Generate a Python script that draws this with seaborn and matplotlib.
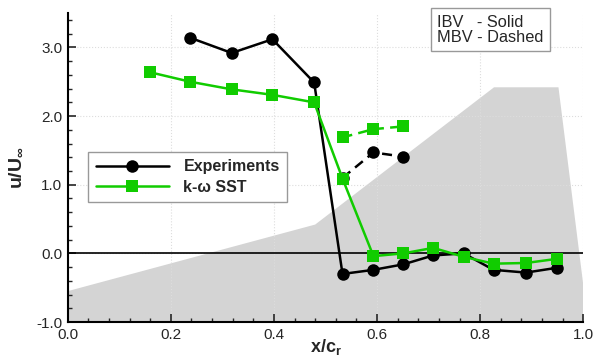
import numpy as np
import pandas as pd
import matplotlib
matplotlib.use("Agg")
import matplotlib.pyplot as plt
import seaborn as sns
from matplotlib.ticker import MultipleLocator

sns.set_style("white")
plt.rcParams['font.family'] = ['Liberation Sans', 'DejaVu Sans']
plt.rcParams['mathtext.fontset'] = 'custom'
plt.rcParams['mathtext.rm'] = 'Liberation Sans'
plt.rcParams['mathtext.bf'] = 'Liberation Sans:bold'
plt.rcParams['mathtext.it'] = 'Liberation Sans:italic'

# Experiments, IBV (solid)
exp_x = [0.238, 0.318, 0.397, 0.478, 0.533, 0.593, 0.651, 0.709, 0.768, 0.826, 0.889, 0.949]
exp_y = [3.14, 2.92, 3.12, 2.49, -0.30, -0.24, -0.16, -0.03, 0.00, -0.24, -0.28, -0.21]
# k-omega SST, IBV (solid)
sst_x = [0.159, 0.238, 0.318, 0.397, 0.478, 0.533, 0.593, 0.651, 0.709, 0.768, 0.826, 0.889, 0.949]
sst_y = [2.64, 2.50, 2.39, 2.31, 2.20, 1.09, -0.04, 0.00, 0.08, -0.05, -0.15, -0.14, -0.08]
# Experiments, MBV (dashed)
exp_mbv_x = [0.533, 0.593, 0.651]
exp_mbv_y = [1.10, 1.47, 1.41]
# k-omega SST, MBV (dashed)
sst_mbv_x = [0.533, 0.593, 0.651]
sst_mbv_y = [1.69, 1.81, 1.85]
# Geometry outline (gray)
geo_x = [0.0, 0.48, 0.827, 0.952, 1.0, 1.0, 0.0]
geo_y = [-0.55, 0.42, 2.42, 2.42, -0.45, -1.0, -1.0]

fig = plt.figure(figsize=(6.0, 3.56), dpi=100)
ax = fig.add_axes([0.113, 0.0955, 0.859, 0.8675])

ax.fill(geo_x, geo_y, color='#d4d4d4', lw=0, zorder=0)
ax.axhline(0.0, color='black', lw=1.2, zorder=1)

green = '#11cc00'
df_exp = pd.DataFrame({'x': exp_x, 'y': exp_y})
df_sst = pd.DataFrame({'x': sst_x, 'y': sst_y})
df_exp2 = pd.DataFrame({'x': exp_mbv_x, 'y': exp_mbv_y})
df_sst2 = pd.DataFrame({'x': sst_mbv_x, 'y': sst_mbv_y})

sns.lineplot(data=df_exp2, x='x', y='y', ax=ax, color='black', lw=1.8, ls=(0, (4, 2.5)),
             marker='o', markersize=9, markeredgewidth=0, sort=False, zorder=3)
sns.lineplot(data=df_sst2, x='x', y='y', ax=ax, color=green, lw=1.8, ls=(0, (4, 2.5)),
             marker='s', markersize=8, markeredgewidth=0, sort=False, zorder=3)
sns.lineplot(data=df_exp, x='x', y='y', ax=ax, color='black', lw=1.8,
             marker='o', markersize=9, markeredgewidth=0, sort=False, zorder=4, label='Experiments')
sns.lineplot(data=df_sst, x='x', y='y', ax=ax, color=green, lw=1.8,
             marker='s', markersize=8, markeredgewidth=0, sort=False, zorder=5, label='k-\u03c9 SST')

ax.set_xlim(0, 1.0)
ax.set_ylim(-1.0, 3.5)
ax.xaxis.set_minor_locator(MultipleLocator(0.04))
ax.yaxis.set_minor_locator(MultipleLocator(0.2))
ax.set_yticks([-1, 0, 1, 2, 3])
ax.set_yticklabels(['-1.0', '0.0', '1.0', '2.0', '3.0'])
ax.set_xticks([0, 0.2, 0.4, 0.6, 0.8, 1.0])
ax.set_xticklabels(['0.0', '0.2', '0.4', '0.6', '0.8', '1.0'])
ax.tick_params(axis='both', which='major', direction='in', length=6, width=1.2,
               labelsize=11, pad=4, bottom=True, left=True)
ax.tick_params(axis='both', which='minor', direction='in', length=3, width=1,
               bottom=True, left=True)
ax.grid(True, which='major', color='#dddddd', lw=0.8, ls=':')
for s in ['top', 'right']:
    ax.spines[s].set_visible(False)
for s in ['left', 'bottom']:
    ax.spines[s].set_color('black')
    ax.spines[s].set_linewidth(1.5)

ax.set_xlabel(r'$\mathbf{x/c_r}$', fontsize=13, labelpad=-3)
ax.set_ylabel(r'$\mathbf{u/U_{\infty}}$', fontsize=14, labelpad=8)

leg = ax.legend(loc='upper left', bbox_to_anchor=(0.04, 0.55), borderaxespad=0, handlelength=4.6,
                prop={'weight': 'bold', 'size': 11.5}, frameon=True, fancybox=False,
                edgecolor='#999999', borderpad=0.45, labelspacing=0.35, handletextpad=0.9,
                framealpha=1)
leg.get_frame().set_linewidth(1)

ax.text(0.717, 0.995, 'IBV   - Solid\nMBV - Dashed', transform=ax.transAxes, ha='left', va='top',
        fontsize=11.8, linespacing=1.0,
        bbox=dict(boxstyle='square,pad=0.4', fc='white', ec='#999999', lw=1))

fig.savefig('out.png', dpi=100)
